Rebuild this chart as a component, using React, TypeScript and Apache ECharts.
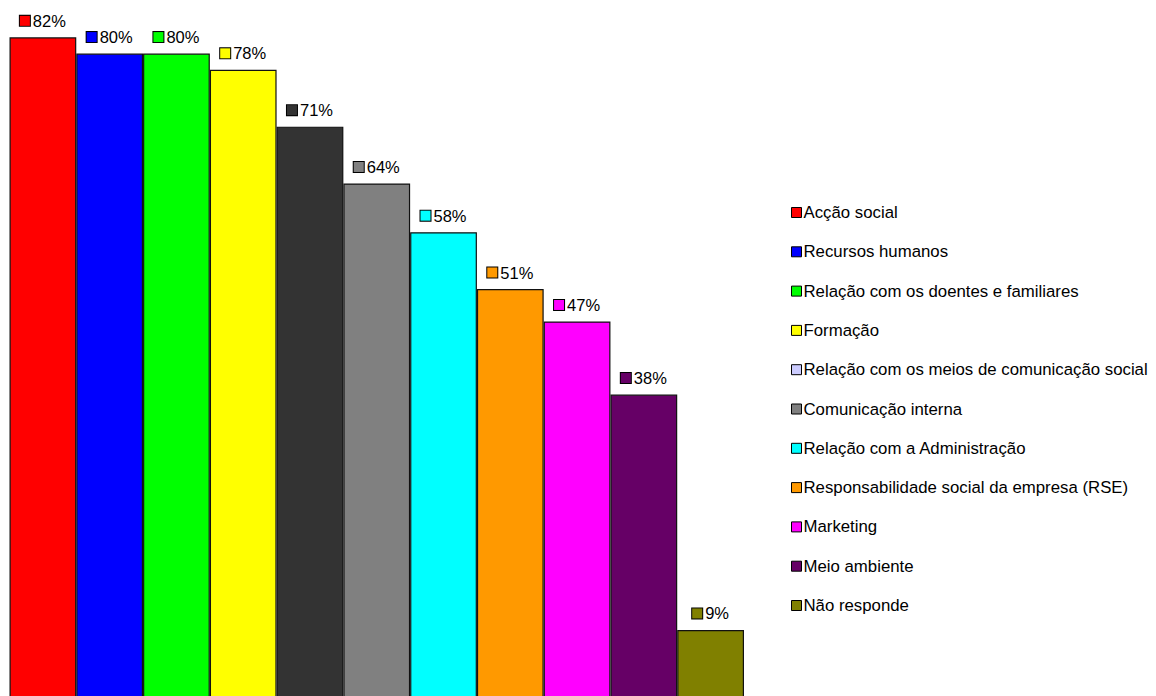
import React, { useEffect, useRef } from "react";
import * as echarts from "echarts";

const categories = [
  "Acção social",
  "Recursos humanos",
  "Relação com os doentes e familiares",
  "Formação",
  "Relação com os meios de comunicação social",
  "Comunicação interna",
  "Relação com a Administração",
  "Responsabilidade social da empresa (RSE)",
  "Marketing",
  "Meio ambiente",
  "Não responde",
];
const values = [82, 80, 80, 78, 71, 64, 58, 51, 47, 38, 9];
const barColors = [
  "#ff0000", "#0000ff", "#00ff00", "#ffff00", "#333333", "#808080",
  "#00ffff", "#ff9900", "#ff00ff", "#660066", "#808000",
];
const legendColors = [
  "#ff0000", "#0000ff", "#00ff00", "#ffff00", "#ccccff", "#808080",
  "#00ffff", "#ff9900", "#ff00ff", "#660066", "#808000",
];

const FONT = "'Liberation Sans', Arial, sans-serif";

export default function App() {
  const ref = useRef<HTMLDivElement>(null);
  useEffect(() => {
    if (!ref.current) return;
    const chart = echarts.init(ref.current, undefined, { renderer: "svg" });
    chart.setOption({
      animation: false,
      backgroundColor: "#ffffff",
      textStyle: { fontFamily: FONT },
      grid: { left: 9.5, width: 734.5, top: 13, bottom: 12, containLabel: false },
      xAxis: { type: "category", data: [""], show: false },
      yAxis: { type: "value", min: 0, max: 85, show: false },
      legend: {
        orient: "vertical",
        left: 786,
        top: 199,
        itemWidth: 10,
        itemHeight: 10,
        itemGap: 22.3,
        icon: "rect",
        textStyle: { fontSize: 16.8, color: "#000", fontFamily: FONT, padding: [0, 0, 0, -3] },
        data: categories.map((c, i) => ({
          name: c,
          itemStyle: { color: legendColors[i], borderColor: "#000", borderWidth: 1 },
        })),
        selectedMode: false,
      },
      series: categories.map((c, i) => ({
        name: c,
        type: "bar",
        barGap: "0%",
        barCategoryGap: "0%",
        data: [values[i]],
        itemStyle: { color: barColors[i], borderColor: "#111", borderWidth: 1.2 },
        label: {
          show: true,
          position: "top",
          distance: 8,
          formatter: "{sq|}{v|" + values[i] + "%}",
          rich: {
            sq: {
              width: 10,
              height: 10,
              backgroundColor: barColors[i],
              borderColor: "#000",
              borderWidth: 1,
            },
            v: { fontSize: 16.5, color: "#000", fontFamily: FONT, padding: [0, 0, 0, 3] },
          },
        },
      })),
    });
    return () => chart.dispose();
  }, []);
  return (
    <div
      style={{ position: "fixed", left: 0, top: 0, width: 1156, height: 696, overflow: "hidden", background: "#fff" }}
    >
      <div ref={ref} style={{ width: 1156, height: 715 }} />
    </div>
  );
}
